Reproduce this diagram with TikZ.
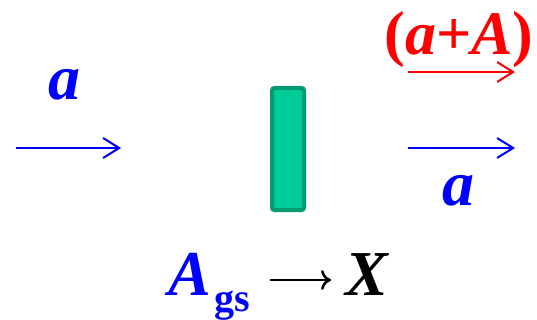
\documentclass[tikz,border=0pt]{standalone}
\usepackage{fontspec}
\setmainfont{Liberation Serif}
\usetikzlibrary{arrows.meta}
\definecolor{boxfill}{HTML}{00CC99}
\definecolor{boxline}{HTML}{009970}
\begin{document}
\begin{tikzpicture}[x=1pt,y=-1pt,
  lab/.style={font=\fontsize{64}{70}\selectfont\bfseries\itshape, inner sep=0pt, anchor=base},
  sublab/.style={font=\fontsize{40}{44}\selectfont\bfseries, inner sep=0pt, anchor=base west},
  flow/.style={line width=2pt, -{Straight Barb[length=16pt,width=20pt,line width=2pt]}},
  react/.style={line width=2.6pt, -{Computer Modern Rightarrow[length=10pt,width=20pt,line width=2.6pt]}}]
\useasboundingbox (0,0) rectangle (537,320);
% left incoming beam
\coordinate (l1) at (16,148);
\coordinate (l2) at (121,148);
\draw[flow, blue] (l1) -- (l2);
\node[lab, blue] (la) at (64,100) {a};
% slab
\node[draw=boxline, fill=boxfill, line width=4pt, rounded corners=2.5pt,
      minimum width=32pt, minimum height=122pt, inner sep=0pt] (slab) at (288,149) {};
% right outgoing beams
\coordinate (r1) at (408,72);
\coordinate (r2) at (515,72);
\draw[flow, red] (r1) -- (r2);
\node[lab, red, font=\fontsize{62}{70}\selectfont\bfseries] (ra) at (459,55) {(\textit{a}+\textit{A})};
\coordinate (b1) at (408,148);
\coordinate (b2) at (515,148);
\draw[flow, blue] (b1) -- (b2);
\node[lab, blue] (ba) at (458,205) {a};
% reaction
\node[lab, blue, anchor=base west] (Ags) at (168,295) {A};
\node[sublab, blue] (gs) at (214,311) {gs};
\node[lab, anchor=base west] (X) at (345,295) {X};
\coordinate (a1) at (270,280);
\coordinate (a2) at (331,280);
\draw[react] (a1) -- (a2);
\end{tikzpicture}
\end{document}
